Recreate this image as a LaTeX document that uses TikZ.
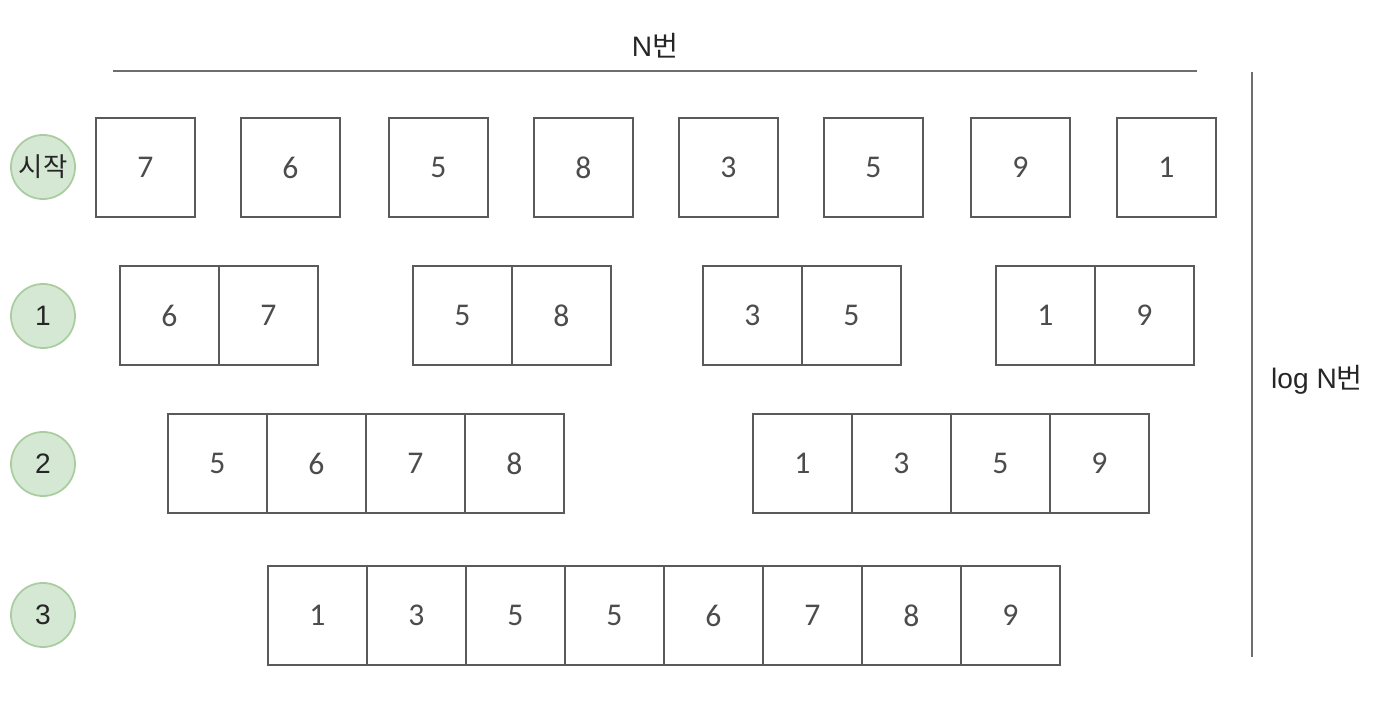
\documentclass[tikz,border=0pt]{standalone}
\usepackage{fontspec}
\setmainfont{Liberation Sans}
\newfontfamily\kor{Noto Sans CJK KR}
\newfontfamily\digitfont{Carlito}
\usetikzlibrary{positioning}
\definecolor{stepfill}{RGB}{213,232,212}
\definecolor{stepline}{RGB}{170,205,160}
\definecolor{boxline}{RGB}{90,90,90}
\definecolor{ruleline}{RGB}{110,110,110}

\begin{document}
\begin{tikzpicture}[x=0.01cm, y=-0.01cm,
  cell/.style={draw=boxline, line width=0.6pt, minimum size=0.99cm, inner sep=0pt, font=\digitfont\fontsize{9}{11}\selectfont, text=black!70},
  stage/.style={circle, draw=stepline, fill=stepfill, line width=0.5pt, minimum size=0.64cm, inner sep=0pt, font=\fontsize{8}{10}\selectfont, text=black!85},
  measure/.style={ruleline, line width=0.7pt},
  caption/.style={font=\fontsize{8}{10}\selectfont, text=black!85}]
  \useasboundingbox (0,0) rectangle (1376,704);

  % Stage markers
  \node[stage, font=\kor\fontsize{7.5}{9}\selectfont] (s0) at (43,167) {시작};
  \node[stage] (s1) at (43,316) {1};
  \node[stage] (s2) at (43,464) {2};
  \node[stage] (s3) at (43,615) {3};

  % Start: single elements
  \foreach \x/\v [count=\i] in {145.5/7, 290.5/6, 438.5/5, 583.5/8, 728.5/3, 873.5/5, 1020.5/9, 1166.5/1}
    \node[cell] (a\i) at (\x,167.5) {\v};

  % Step 1: pairs
  \foreach \x/\v [count=\i] in {169.5/6, 268.5/7, 462.5/5, 561.5/8, 752.5/3, 851.5/5, 1045.5/1, 1144.5/9}
    \node[cell] (b\i) at (\x,315.5) {\v};

  % Step 2: groups of four
  \foreach \x/\v [count=\i] in {217.5/5, 316.5/6, 415.5/7, 514.5/8, 802.5/1, 901.5/3, 1000.5/5, 1099.5/9}
    \node[cell] (c\i) at (\x,463.5) {\v};

  % Step 3: merged
  \foreach \v [count=\i] in {1,3,5,5,6,7,8,9}
    \node[cell] (d\i) at ({317.5+99*(\i-1)},615.5) {\v};

  % N times (width)
  \coordinate (wl) at (113,71);
  \coordinate (wr) at (1197,71);
  \draw[measure] (wl) -- (wr);
  \node[caption] (wtxt) at (655,46) {N{\kor 번}};

  % log N times (depth)
  \coordinate (ht) at (1252,72);
  \coordinate (hb) at (1252,657);
  \draw[measure] (ht) -- (hb);
  \node[caption] (htxt) at (1317,380) {log N{\kor 번}};
\end{tikzpicture}
\end{document}
